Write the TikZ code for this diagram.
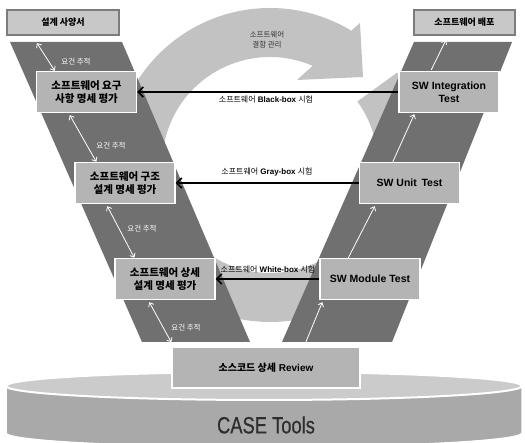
\documentclass[tikz,border=0pt]{standalone}
\usepackage{fontspec}
\setmainfont{Liberation Sans}
\newfontfamily\kr{Noto Sans CJK KR}
\usepackage{tikz}
\usetikzlibrary{arrows.meta}
\usepackage{xcolor}
\definecolor{armgray}{HTML}{707070}
\definecolor{ringgray}{HTML}{C2C2C2}
\definecolor{boxgray}{HTML}{B4B4B4}
\definecolor{topgray}{HTML}{C8C8C8}
\definecolor{edgegray}{HTML}{7C7C7C}
\definecolor{disktop}{HTML}{CBCBCB}
\definecolor{diskside}{HTML}{A9A9A9}

\begin{document}
\begin{tikzpicture}[x=1pt, y=1pt,
  vbox/.style={draw=white, line width=1.4pt, fill=boxgray, minimum width=100pt,
               minimum height=41pt, align=center, inner sep=1pt,
               font=\bfseries\fontsize{10.5}{13}\selectfont},
  kbox/.style={vbox, font=\kr\bfseries\fontsize{10.5}{13}\selectfont},
  endbox/.style={draw=edgegray, line width=2.2pt, fill=topgray, minimum height=25pt,
                 inner sep=1pt, font=\kr\bfseries\fontsize{9}{11}\selectfont},
  tst/.style={-{Straight Barb[length=5pt,width=10pt]}, line width=1.6pt},
  trace/.style={{Straight Barb[length=3.5pt,width=6pt]}-{Straight Barb[length=3.5pt,width=6pt]},
                draw=white, line width=0.8pt},
  flow/.style={-{Straight Barb[length=3.5pt,width=6pt]}, draw=white, line width=0.8pt},
  tlbl/.style={text=white, inner sep=0pt, font=\kr\fontsize{7.5}{9}\selectfont},
  hlbl/.style={inner sep=0pt, font=\bfseries\fontsize{8}{10}\selectfont}
]
\useasboundingbox (0,0) rectangle (525,443);

% CASE tools disk
\filldraw[fill=diskside, draw=white, line width=1.5pt]
  (6,57) -- (6,10) arc[start angle=180, end angle=360, x radius=258, y radius=14]
  -- (522,57) -- cycle;
\filldraw[fill=disktop, draw=white, line width=2pt] (264,57) ellipse[x radius=258, y radius=14];
\node[text=black!82, font=\fontsize{23.5}{26}\selectfont] (case) at (266,18)
  {\scalebox{0.78}[1]{\addfontfeature{FakeBold=0.6}CASE Tools}};

% defect management ring
\fill[ringgray] (360,420) -- (363,366) -- (297,363) -- (312.7,377.2)
  arc[start angle=66.7, end angle=396, radius=108] -- (397,370.3)
  arc[start angle=396, end angle=58.8, radius=157] -- cycle;
\node[align=center, text=black!80, font=\kr\fontsize{7.5}{10}\selectfont] (defect) at (267,403)
  {소프트웨어\\결함 관리};

% V arms
\fill[armgray] (10,401) -- (122,401) -- (250,101) -- (142,101) -- cycle;
\fill[armgray] (414,401) -- (512,401) -- (392,101) -- (282,101) -- cycle;

\node[endbox, minimum width=112pt] (spec) at (63,420.5) {설계 사양서};
\node[endbox, minimum width=101pt] (deploy) at (464.5,420.5) {소프트웨어 배포};

\node[kbox] (req) at (86.5,351) {소프트웨어 요구\\사항 명세 평가};
\node[kbox] (arch) at (125,260) {소프트웨어 구조\\설계 명세 평가};
\node[kbox] (detail) at (165,164) {소프트웨어 상세\\설계 명세 평가};
\node[vbox] (integ) at (449,351) {SW Integration\\Test};
\node[vbox] (unit) at (409.5,260) {SW Unit\ \,Test};
\node[vbox] (module) at (370,164) {SW Module Test};
\node[vbox, minimum width=188pt, font=\bfseries\fontsize{10}{12}\selectfont] (review) at (266,75.5)
  {{\kr 소스코드 상세} Review};

% tests
\draw[tst] (integ.west) -- (req.east);
\draw[tst] (unit.west) -- (arch.east);
\draw[tst] (module.west) -- (detail.east);
\node[hlbl] (blackbox) at (266,344) {{\kr\mdseries 소프트웨어} Black-box {\kr\mdseries 시험}};
\node[hlbl] (graybox) at (267,271) {{\kr\mdseries 소프트웨어} Gray-box {\kr\mdseries 시험}};
\node[hlbl] (whitebox) at (268,174) {{\kr\mdseries 소프트웨어} White-box {\kr\mdseries 시험}};

% traceability
\draw[trace] ([shift={(31,-7)}]spec.south west) -- ([shift={(19,0)}]req.north west);
\draw[trace] ([shift={(34,-2)}]req.south west) -- ([shift={(22,0)}]arch.north west);
\draw[trace] ([shift={(33,-2)}]arch.south west) -- ([shift={(20,0)}]detail.north west);
\draw[trace] ([shift={(35,-2)}]detail.south west) -- ([shift={(0,4)}]review.north west);
\node[tlbl] (tr1) at (76,381) {요건 추적};
\node[tlbl] (tr2) at (111,297) {요건 추적};
\node[tlbl] (tr3) at (142,214) {요건 추적};
\node[tlbl] (tr4) at (186,115) {요건 추적};

\draw[flow] ([shift={(-57,-1)}]review.north east) -- ([shift={(3,-2)}]module.south west);
\draw[flow] ([shift={(29,0)}]module.north west) -- ([shift={(16,-2)}]unit.south west);
\draw[flow] ([shift={(34,0)}]unit.north west) -- ([shift={(16,-1)}]integ.south west);
\draw[flow] ([shift={(33,1)}]integ.north west) -- ([shift={(33,-4)}]deploy.south west);
\end{tikzpicture}
\end{document}
